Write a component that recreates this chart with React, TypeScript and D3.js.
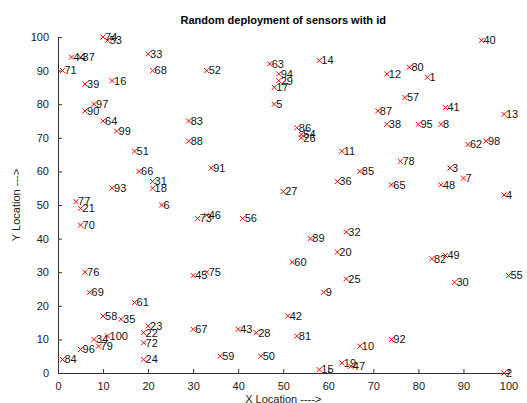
import { useRef, useEffect } from 'react';
import * as d3 from 'd3';

// sensor ids and their positions
const ids = d3.range(1, 101);
const xs = [
  82, 99, 87, 99, 48, 23, 90, 85, 59, 67,
  63, 73, 99, 58, 58, 12, 48, 21, 63, 62,
  5, 19, 20, 19, 64, 54, 50, 44, 49, 88,
  21, 64, 20, 8, 14, 62, 5, 73, 6, 94,
  86, 51, 40, 3, 30, 33, 65, 85, 86, 45,
  17, 33, 11, 54, 100, 41, 77, 10, 36, 52,
  17, 91, 47, 10, 74, 18, 30, 21, 7, 5,
  1, 19, 31, 10, 33, 6, 4, 76, 9, 78,
  53, 83, 29, 1, 67, 53, 71, 29, 56, 6,
  34, 74, 12, 49, 80, 5, 8, 95, 13, 11,
];
const ys = [
  88, 0, 61, 53, 80, 50, 58, 74, 24, 8,
  66, 89, 77, 93, 1, 87, 85, 55, 3, 36,
  49, 12, 14, 4, 28, 70, 54, 12, 87, 27,
  57, 42, 95, 10, 16, 57, 94, 74, 86, 99,
  79, 17, 13, 94, 29, 47, 2, 56, 35, 5,
  66, 90, 99, 71, 29, 46, 82, 17, 5, 33,
  21, 68, 92, 75, 56, 60, 13, 90, 24, 44,
  90, 9, 46, 100, 30, 30, 51, 63, 8, 91,
  11, 34, 75, 4, 60, 73, 78, 69, 40, 78,
  61, 10, 55, 89, 74, 7, 80, 69, 72, 11,
];
const xTicks = [0, 10, 20, 30, 40, 50, 60, 70, 80, 90, 100];
const yTicks = [0, 10, 20, 30, 40, 50, 60, 70, 80, 90, 100];

const font = '"Liberation Sans", Arial, Helvetica, sans-serif';

export default function App() {
  const ref = useRef<SVGSVGElement>(null);

  useEffect(() => {
    if (!ref.current) return;
    const width = 527;
    const height = 403;
    const margin = { top: 37, right: 18.5, bottom: 30, left: 58 };

    const svg = d3.select(ref.current);
    svg.selectAll('*').remove();
    svg.attr('width', width).attr('height', height);

    const x = d3
      .scaleLinear()
      .domain([0, 100])
      .range([margin.left, width - margin.right]);
    const y = d3
      .scaleLinear()
      .domain([0, 100])
      .range([height - margin.bottom, margin.top]);

    const xAxis = svg
      .append('g')
      .attr('transform', `translate(0,${height - margin.bottom})`)
      .call(
        d3.axisBottom(x).tickValues(xTicks).tickSizeInner(-4).tickSizeOuter(0).tickPadding(9)
      );
    const yAxis = svg
      .append('g')
      .attr('transform', `translate(${margin.left},0)`)
      .call(
        d3.axisLeft(y).tickValues(yTicks).tickSizeInner(-4).tickSizeOuter(0).tickPadding(9)
      );

    [xAxis, yAxis].forEach((g) => {
      g.selectAll('path, line').attr('stroke', '#333');
      g.selectAll('text')
        .attr('fill', '#222')
        .style('font-family', font)
        .style('font-size', '11px');
    });

    const pts = ids.map((id, i) => ({ id, x: xs[i], y: ys[i] }));
    const s = 2.5;

    const g = svg.append('g');
    const mark = g
      .selectAll('g.pt')
      .data(pts)
      .join('g')
      .attr('class', 'pt')
      .attr('transform', (d) => `translate(${x(d.x)},${y(d.y)})`);
    mark
      .append('path')
      .attr('d', `M${-s},${-s}L${s},${s}M${-s},${s}L${s},${-s}`)
      .attr('stroke', '#ff0000')
      .attr('stroke-width', 1)
      .attr('fill', 'none');
    mark
      .append('text')
      .attr('x', 2)
      .attr('dy', '0.35em')
      .attr('fill', '#111')
      .style('font-family', font)
      .style('font-size', '11px')
      .text((d) => d.id);

    svg
      .append('text')
      .attr('x', (margin.left + width - margin.right) / 2)
      .attr('y', 24)
      .attr('text-anchor', 'middle')
      .style('font-family', font)
      .style('font-size', '11px')
      .style('font-weight', 'bold')
      .text('Random deployment of sensors with id');

    svg
      .append('text')
      .attr('x', (margin.left + width - margin.right) / 2)
      .attr('y', 403)
      .attr('text-anchor', 'middle')
      .attr('fill', '#222')
      .style('font-family', font)
      .style('font-size', '11px')
      .text('X Location ---->');

    svg
      .append('text')
      .attr('transform', `translate(20,${(margin.top + height - margin.bottom) / 2}) rotate(-90)`)
      .attr('text-anchor', 'middle')
      .attr('fill', '#222')
      .style('font-family', font)
      .style('font-size', '11px')
      .text('Y Location --->');
  }, []);

  return (
    <div style={{ position: 'absolute', left: 0, top: 0, background: '#fff' }}>
      <svg ref={ref}></svg>
    </div>
  );
}
